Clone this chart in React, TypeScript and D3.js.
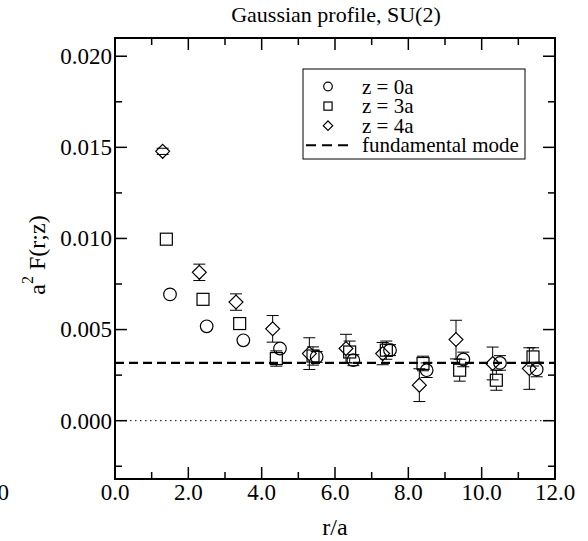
import React from "react";
import * as d3 from "d3";

// r/a positions (each series is shifted a little so the symbols don't overlap)
const rCircle = [1.5, 2.5, 3.5, 4.5, 5.5, 6.5, 7.5, 8.5, 9.5, 10.5, 11.5];
const rSquare = [1.4, 2.4, 3.4, 4.4, 5.4, 6.4, 7.4, 8.4, 9.4, 10.4, 11.4];
const rDiamond = [1.3, 2.3, 3.3, 4.3, 5.3, 6.3, 7.3, 8.3, 9.3, 10.3, 11.3];

// a^2 F(r;z) in units of 1e-3
const fZ0 = [6.93, 5.18, 4.41, 3.96, 3.5, 3.32, 3.87, 2.77, 3.36, 3.17, 2.81];
const eZ0 = [0, 0, 0, 0, 0.3, 0.3, 0.3, 0.4, 0.4, 0.4, 0.4];
const fZ3 = [9.96, 6.66, 5.33, 3.41, 3.55, 3.77, 3.87, 3.14, 2.77, 2.22, 3.5];
const eZ3 = [0, 0, 0, 0.42, 0.5, 0.6, 0.5, 0.4, 0.6, 0.55, 0.5];
const fZ4 = [14.78, 8.14, 6.51, 5.04, 3.68, 3.96, 3.68, 1.95, 4.45, 3.14, 2.86];
const eZ4 = [0.17, 0.45, 0.45, 0.73, 0.87, 0.78, 0.61, 0.9, 1.06, 0.9, 1.14];

const fundamental = 3.17; // 1e-3

const xTicks = [0, 2, 4, 6, 8, 10, 12];
const yTicks = [0, 5, 10, 15, 20];

const W = 588;
const H = 541;
const m = { left: 115, right: 555, top: 38, bottom: 479 };
const FF = "Liberation Serif";

const x = d3.scaleLinear().domain([0, 12]).range([m.left, m.right]);
const y = d3.scaleLinear().domain([-3.2, 21]).range([m.bottom, m.top]);

type Shape = "circle" | "square" | "diamond";
const SZ = 6.3;

function Marker({ shape, cx, cy, s = SZ }: { shape: Shape; cx: number; cy: number; s?: number }) {
  const common = { fill: "none", stroke: "#000", strokeWidth: 1.2 };
  if (shape === "circle") return <circle cx={cx} cy={cy} r={s} {...common} />;
  if (shape === "square")
    return <rect x={cx - s * 0.95} y={cy - s * 0.95} width={s * 1.9} height={s * 1.9} {...common} />;
  const d = s * 1.1;
  return <path d={`M${cx},${cy - d}L${cx + d},${cy}L${cx},${cy + d}L${cx - d},${cy}Z`} {...common} />;
}

function Series({ rs, vs, es, shape }: { rs: number[]; vs: number[]; es: number[]; shape: Shape }) {
  return (
    <g>
      {rs.map((r, i) => {
        const cx = x(r);
        const cy = y(vs[i]);
        const top = y(vs[i] + es[i]);
        const bot = y(vs[i] - es[i]);
        return (
          <g key={i}>
            {cy - top > SZ && <line x1={cx} x2={cx} y1={top} y2={cy - SZ} stroke="#000" />}
            {bot - cy > SZ && <line x1={cx} x2={cx} y1={cy + SZ} y2={bot} stroke="#000" />}
            {es[i] > 0 && (
              <g>
                <line x1={cx - 6} x2={cx + 6} y1={top} y2={top} stroke="#000" />
                <line x1={cx - 6} x2={cx + 6} y1={bot} y2={bot} stroke="#000" />
              </g>
            )}
            <Marker shape={shape} cx={cx} cy={cy} />
          </g>
        );
      })}
    </g>
  );
}

export default function App() {
  const xMinor = d3.range(1, 12, 2);
  const yMinor = [-2.5, 2.5, 7.5, 12.5, 17.5];
  const legend: { shape: Shape | "dash"; label: string }[] = [
    { shape: "circle", label: "z = 0a" },
    { shape: "square", label: "z = 3a" },
    { shape: "diamond", label: "z = 4a" },
    { shape: "dash", label: "fundamental mode" },
  ];
  return (
    <svg width={W} height={H} style={{ position: "absolute", left: 0, top: 0, background: "#fff" }}>
      <rect width={W} height={H} fill="#fff" />
      <text x={9} y={500} fontSize={23} textAnchor="end" style={{ fontFamily: FF }}>12.0</text>

      <text x={336} y={22} fontSize={22} textAnchor="middle" style={{ fontFamily: FF }}>
        Gaussian profile, SU(2)
      </text>

      {/* reference lines */}
      <line x1={m.left} x2={m.right} y1={y(0)} y2={y(0)} stroke="#000" strokeWidth={1} strokeDasharray="1.5,3.5" />
      <line x1={m.left} x2={m.right} y1={y(fundamental)} y2={y(fundamental)} stroke="#000" strokeWidth={2.2} strokeDasharray="9,5" />

      <Series rs={rCircle} vs={fZ0} es={eZ0} shape="circle" />
      <Series rs={rSquare} vs={fZ3} es={eZ3} shape="square" />
      <Series rs={rDiamond} vs={fZ4} es={eZ4} shape="diamond" />

      {/* frame and ticks */}
      <rect x={m.left} y={m.top} width={m.right - m.left} height={m.bottom - m.top} fill="none" stroke="#000" strokeWidth={2} />
      {xTicks.map((t) => (
        <g key={"x" + t}>
          <line x1={x(t)} x2={x(t)} y1={m.bottom} y2={m.bottom - 12} stroke="#000" strokeWidth={1.5} />
          <line x1={x(t)} x2={x(t)} y1={m.top} y2={m.top + 12} stroke="#000" strokeWidth={1.5} />
          <text x={x(t)} y={500} fontSize={23} textAnchor="middle" style={{ fontFamily: FF }}>
            {t.toFixed(1)}
          </text>
        </g>
      ))}
      {xMinor.map((t) => (
        <g key={"xm" + t}>
          <line x1={x(t)} x2={x(t)} y1={m.bottom} y2={m.bottom - 7} stroke="#000" strokeWidth={1.5} />
          <line x1={x(t)} x2={x(t)} y1={m.top} y2={m.top + 7} stroke="#000" strokeWidth={1.5} />
        </g>
      ))}
      {yTicks.map((t) => (
        <g key={"y" + t}>
          <line x1={m.left} x2={m.left + 12} y1={y(t)} y2={y(t)} stroke="#000" strokeWidth={1.5} />
          <line x1={m.right} x2={m.right - 12} y1={y(t)} y2={y(t)} stroke="#000" strokeWidth={1.5} />
          <text x={112} y={y(t)} dy="0.34em" fontSize={23} textAnchor="end" style={{ fontFamily: FF }}>
            {(t / 1000).toFixed(3)}
          </text>
        </g>
      ))}
      {yMinor.map((t) => (
        <g key={"ym" + t}>
          <line x1={m.left} x2={m.left + 7} y1={y(t)} y2={y(t)} stroke="#000" strokeWidth={1.5} />
          <line x1={m.right} x2={m.right - 7} y1={y(t)} y2={y(t)} stroke="#000" strokeWidth={1.5} />
        </g>
      ))}

      {/* axis labels */}
      <text x={335} y={535} fontSize={24} textAnchor="middle" style={{ fontFamily: FF }}>r/a</text>
      <text transform="translate(45,255) rotate(-90)" fontSize={24} textAnchor="middle" style={{ fontFamily: FF }}>
        a<tspan dy={-12} fontSize={16}>2</tspan>
        <tspan dy={12}> F(r;z)</tspan>
      </text>

      {/* legend */}
      <rect x={303} y={69} width={222} height={90} fill="#fff" stroke="#000" strokeWidth={1} />
      {legend.map((l, i) => {
        const ly = 86.5 + i * 19.6;
        return (
          <g key={l.label}>
            {l.shape === "dash" ? (
              <line x1={306} x2={348} y1={ly} y2={ly} stroke="#000" strokeWidth={2} strokeDasharray="10,6" />
            ) : (
              <Marker shape={l.shape} cx={328} cy={ly} s={4.3} />
            )}
            <text x={362} y={ly} dy="0.34em" fontSize={21} style={{ fontFamily: FF }}>
              {l.label}
            </text>
          </g>
        );
      })}
    </svg>
  );
}
